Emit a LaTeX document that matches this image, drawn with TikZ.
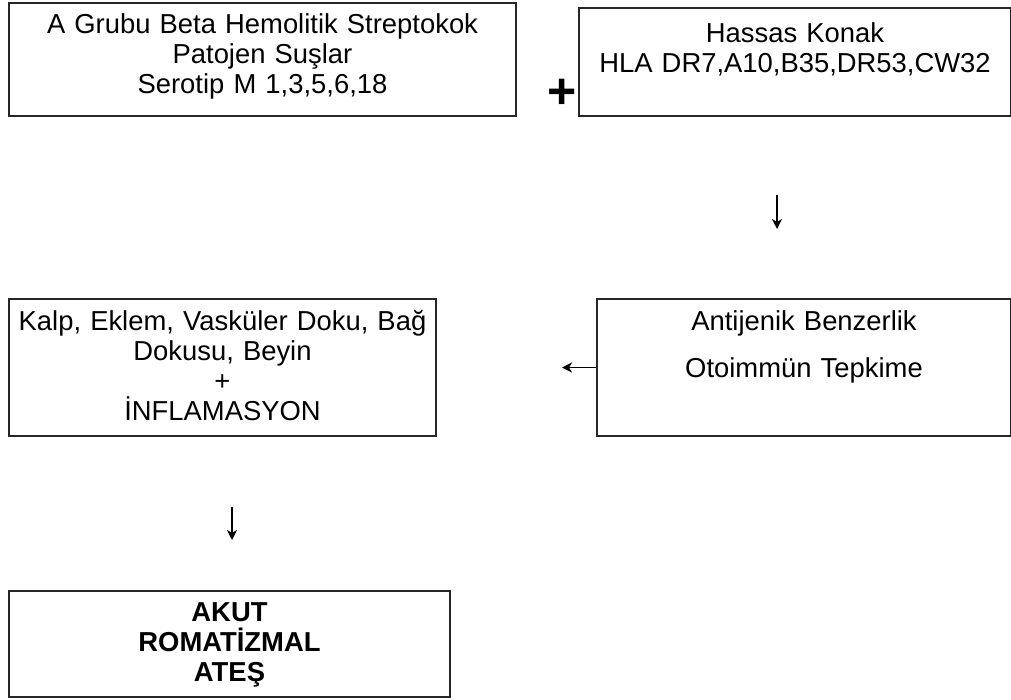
\documentclass[tikz,border=0pt]{standalone}
\usepackage{fontspec}
\setmainfont{Liberation Sans}
\usetikzlibrary{positioning,arrows.meta,calc}

\begin{document}
\begin{tikzpicture}[
    x=0.5pt, y=-0.5pt,
    font=\fontsize{13.7}{15}\selectfont,
    >={Stealth[length=5pt,width=5pt,inset=1.5pt]},
    box/.style={
        draw=black!85,
        line width=1pt,
        align=center,
        anchor=north west,
        inner xsep=4pt,
        inner ysep=5.5pt,
        text height=10pt
    },
    link/.style={
        ->,
        line width=0.7pt,
        black
    }
]

% page frame
\useasboundingbox (0,0) rectangle (1011,700);

% Top row: agent and host
\node[box, text width=245.5pt, text depth=35.5pt] (strep) at (8,2) {
    A Grubu Beta Hemolitik Streptokok\\
    Patojen Suşlar\\
    Serotip M 1,3,5,6,18
};
\node[box, text width=208pt, text height=12pt, text depth=31pt] (host) at (578,7) {
    Hassas Konak\\
    HLA DR7,A10,B35,DR53,CW32
};
\node[font=\fontsize{25}{25}\selectfont\bfseries, inner sep=0pt] (plus) at (562,94) {+};

% Middle row: mimicry and target tissues
\node[box, text width=199pt, text depth=47.5pt] (mimic) at (596,298) {
    Antijenik Benzerlik\\[8.5pt]
    Otoimmün Tepkime
};
\node[box, text width=205.5pt, text depth=47.5pt] (tissue) at (8,298) {
    Kalp, Eklem, Vasküler Doku, Bağ\\
    Dokusu, Beyin\\
    +\\
    İNFLAMASYON
};

% Bottom: outcome
\node[box, text width=212.5pt, text height=9.5pt, text depth=32.5pt,
      font=\fontsize{13.7}{15}\selectfont\bfseries] (fever) at (8,590) {
    AKUT\\
    ROMATİZMAL\\
    ATEŞ
};

% Connections
\draw[link, shorten <=39pt, shorten >=34.5pt]
    ([xshift=-9pt]host.south) -- ([xshift=-9pt]host.south |- mimic.north);
\draw[link, shorten >=62.5pt] (mimic.west) -- (mimic.west -| tissue.east);
\draw[link, shorten <=35pt, shorten >=25pt]
    ([xshift=4.75pt]tissue.south) -- ([xshift=4.75pt]tissue.south |- fever.north);

\end{tikzpicture}
\end{document}
